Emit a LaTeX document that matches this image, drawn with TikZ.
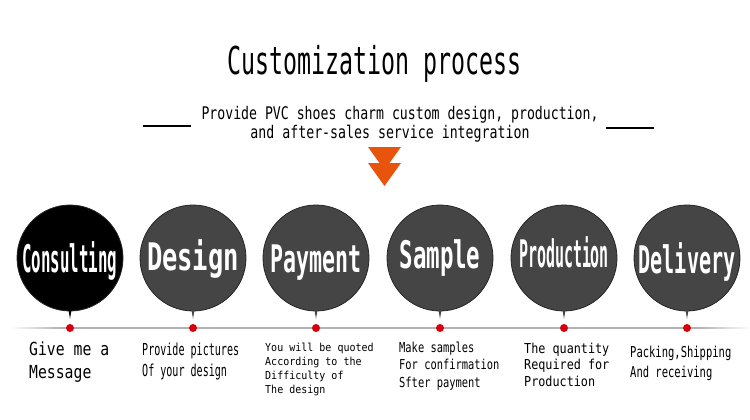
\documentclass[tikz,border=0pt]{standalone}
\usepackage{fontspec}
\usepackage{graphicx}
\setmainfont{DejaVu Sans Mono}
\usetikzlibrary{positioning}
\definecolor{bubgray}{HTML}{454545}
\definecolor{arroworange}{HTML}{E8540C}
\definecolor{dotred}{HTML}{D9000D}
\newcommand{\fitw}[2]{\resizebox{#1}{\height}{#2}}
\newcommand{\narrow}[2]{\scalebox{#1}[1]{\begin{tabular}[t]{@{}l@{}}#2\end{tabular}}}

\begin{document}
\begin{tikzpicture}[x=1pt,y=-1pt,
  txt/.style={inner sep=0pt,anchor=base west},
  head/.style={inner sep=0pt,anchor=base},
  bubble/.style={circle,draw=black!85,line width=0.8pt,minimum size=106pt,inner sep=0pt},
  dot/.style={circle,fill=dotred,minimum size=8pt,inner sep=0pt},
  lab/.style={inner sep=0pt,anchor=base,text=white,font=\bfseries\fontsize{38}{40}\selectfont}]
  \useasboundingbox (0,0) rectangle (750,420);
  % --- heading and the line under it ---
  \node[head,font=\fontsize{38.4}{40}\selectfont] (title) at (375,75)
       {\fitw{294pt}{Customization process}};
  \node[head,font=\fontsize{17.4}{20}\selectfont] (sub1) at (400,120)
       {\fitw{397pt}{Provide PVC shoes charm custom design, production,}};
  \node[head,font=\fontsize{17.4}{20}\selectfont] (sub2) at (390,139)
       {\fitw{279pt}{and after-sales service integration}};
  \draw[line width=1.5pt] (143,126) -- (191,126);
  \draw[line width=1.5pt] (606,128) -- (654,128);
  % --- orange double arrow ---
  \fill[arroworange] (368,147) -- (401,147) -- (384.5,170) -- cycle;
  \fill[arroworange] (368,163) -- (401,163) -- (384.5,186) -- cycle;
  % --- time line, fading at both ends ---
  \fill[gray!60] (60,327.3) rectangle (700,328.7);
  \shade[left color=white,right color=gray!60] (10,327.3) rectangle (60,328.7);
  \shade[left color=gray!60,right color=white] (700,327.3) rectangle (750,328.7);
  % --- the six bubbles with their dots ---
  \foreach \cx/\word/\tw/\bl/\col [count=\i] in
      {70/Consulting/95/272/black, 193/Design/92/270/bubgray,
       316/Payment/91/272/bubgray, 440/Sample/81/268/bubgray,
       564/Production/90/267/bubgray, 687/Delivery/97/273/bubgray}{
    \node[bubble,fill=\col] (b\i) at (\cx,258) {};
    \fill[\col] (\cx-12,300) .. controls (\cx-2,306) .. (\cx,319)
                .. controls (\cx+2,306) .. (\cx+12,300) -- cycle;
    \node[lab] (w\i) at (\cx,\bl) {\fitw{\tw pt}{\word}};
    \node[dot] (d\i) at (\cx,328) {};
  }
  % --- step texts ---
  \node[txt,font=\fontsize{18}{23}\selectfont] (t1) at (29,355)
       {\narrow{0.82}{Give me a\\Message}};
  \node[txt,font=\fontsize{16.5}{21}\selectfont] (t2) at (142,355)
       {\narrow{0.61}{Provide pictures\\Of your design}};
  \node[txt,font=\fontsize{11}{14}\selectfont] (t3) at (265,351)
       {\narrow{0.91}{You will be quoted\\According to the\\Difficulty of\\The design}};
  \node[txt,font=\fontsize{13.7}{17.5}\selectfont] (t4) at (399,352)
       {\narrow{0.76}{Make samples\\For confirmation\\Sfter payment}};
  \node[txt,font=\fontsize{13.7}{16.5}\selectfont] (t5) at (524,353)
       {\narrow{0.86}{The quantity\\Required for\\Production}};
  \node[txt,font=\fontsize{15}{20}\selectfont] (t6) at (630,357)
       {\narrow{0.70}{Packing,Shipping\\And receiving}};
\end{tikzpicture}
\end{document}
